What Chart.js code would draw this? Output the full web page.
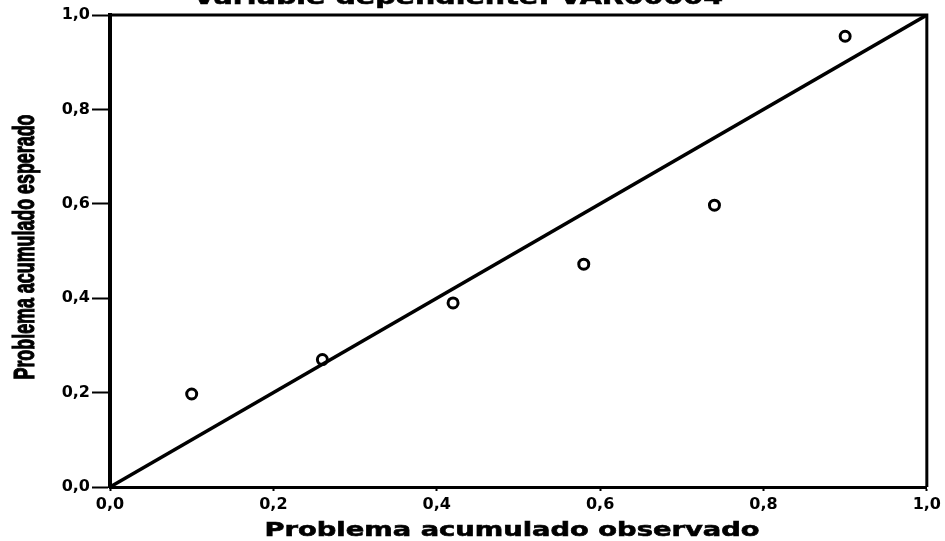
<!DOCTYPE html>
<html lang="es">
<head>
  <meta charset="UTF-8">
  <title>Gráfico P-P normal</title>
  <script src="https://cdn.jsdelivr.net/npm/chart.js"></script>
  <style>
    html, body {
      margin: 0;
      padding: 0;
      background: #fff;
      overflow: hidden;
    }
    .wrap {
      position: relative;
      width: 945px;
      height: 541px;
    }
  </style>
</head>
<body>
  <div class="wrap">
    <canvas id="pp-chart"></canvas>
  </div>

  <script>
    // datos
    const chartTitle = 'Variable dependiente: VAR00004';
    const xTitle = 'Problema acumulado observado';
    const yTitle = 'Problema acumulado esperado';
    const tickLabels = ['0,0', '0,2', '0,4', '0,6', '0,8', '1,0'];
    const observado = [0.10, 0.26, 0.42, 0.58, 0.74, 0.90];
    const esperado = [0.197, 0.27, 0.39, 0.472, 0.597, 0.955];
    const diagonal = [0, 1];

    const tickFmt = (v) => {
      const i = Math.round(v / 0.2);
      return tickLabels[i] !== undefined ? tickLabels[i] : '';
    };

    // texto ensanchado / estrechado para imitar la fuente del escaneo
    function stretchedText(ctx, text, font, cx, base, width, rotate, thick) {
      ctx.save();
      ctx.font = font;
      const w = ctx.measureText(text).width;
      if (rotate) {
        ctx.translate(base, cx);
        ctx.rotate(-Math.PI / 2);
      } else {
        ctx.translate(cx, base);
      }
      ctx.scale(width / w, 1);
      ctx.textAlign = 'center';
      ctx.textBaseline = 'alphabetic';
      ctx.fillText(text, 0, 0);
      if (thick) {
        ctx.lineWidth = thick;
        ctx.strokeStyle = '#000';
        ctx.strokeText(text, 0, 0);
      }
      ctx.restore();
    }

    const framePlugin = {
      id: 'frame',
      afterDraw(chart) {
        const { ctx, chartArea: a } = chart;
        ctx.save();
        ctx.strokeStyle = '#000';
        ctx.lineWidth = 3;
        ctx.beginPath();
        ctx.moveTo(a.left, a.top);
        ctx.lineTo(a.right, a.top);
        ctx.lineTo(a.right, a.bottom);
        ctx.stroke();
        ctx.fillStyle = '#000';
        stretchedText(ctx, chartTitle, 'bold 22px "DejaVu Sans", sans-serif', 458, 4, 530, false, 0.6);
        stretchedText(ctx, xTitle, 'bold 20px "DejaVu Sans", sans-serif', 512, 536, 495, false, 0.6);
        stretchedText(ctx, yTitle, 'bold 30px "Liberation Sans", sans-serif', 247, 34, 265, true, 1.2);
        ctx.restore();
      }
    };

    new Chart(document.getElementById('pp-chart'), {
      type: 'scatter',
      data: {
        datasets: [
          {
            label: 'diagonal',
            data: diagonal.map(v => ({ x: v, y: v })),
            showLine: true,
            borderColor: '#000',
            borderWidth: 3.5,
            pointRadius: 0
          },
          {
            label: 'observado',
            data: observado.map((x, i) => ({ x: x, y: esperado[i] })),
            showLine: false,
            pointStyle: 'circle',
            pointRadius: 5,
            borderColor: '#000',
            borderWidth: 3,
            backgroundColor: 'rgba(0,0,0,0)'
          }
        ]
      },
      options: {
        responsive: true,
        maintainAspectRatio: false,
        animation: false,
        layout: { padding: { top: 15, right: 17, left: 0, bottom: 0 } },
        plugins: {
          legend: { display: false },
          tooltip: { enabled: false }
        },
        scales: {
          x: {
            type: 'linear',
            min: 0,
            max: 1,
            afterFit: (s) => { s.height = 54; },
            border: { color: '#000', width: 3 },
            grid: { drawOnChartArea: false, drawTicks: true, tickLength: 4, tickWidth: 2, color: '#000' },
            ticks: {
              stepSize: 0.2,
              padding: 4,
              color: '#000',
              maxRotation: 0,
              font: { family: '"DejaVu Sans", sans-serif', size: 16, weight: 'bold' },
              callback: tickFmt
            }
          },
          y: {
            type: 'linear',
            min: 0,
            max: 1,
            afterFit: (s) => { s.width = 110; },
            border: { color: '#000', width: 4 },
            grid: { drawOnChartArea: false, drawTicks: true, tickLength: 18, tickWidth: 2, color: '#000' },
            ticks: {
              stepSize: 0.2,
              padding: 2,
              color: '#000',
              font: { family: '"DejaVu Sans", sans-serif', size: 16, weight: 'bold' },
              callback: tickFmt
            }
          }
        }
      },
      plugins: [framePlugin]
    });
  </script>
</body>
</html>
